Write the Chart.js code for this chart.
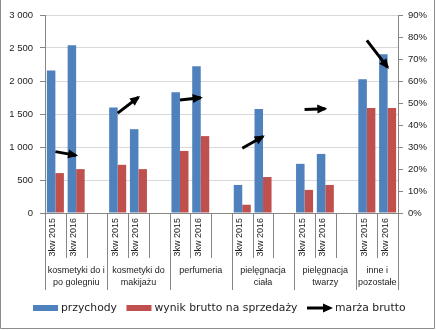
<!DOCTYPE html>
<html>
<head>
<meta charset="utf-8">
<script src="https://cdn.jsdelivr.net/npm/chart.js@4/dist/chart.umd.min.js"></script>
<style>
  html, body { margin: 0; padding: 0; background: #fff; }
  canvas { display: block; }
</style>
</head>
<body>
<canvas id="chart" width="436" height="330"></canvas>
<script>
// Product groups (two-line labels) and reporting periods
const groupLabels = [
  ['kosmetyki do i', 'po golegniu'],
  ['kosmetyki do', 'makijażu'],
  ['perfumeria'],
  ['pielęgnacja', 'ciała'],
  ['pielęgnacja', 'twarzy'],
  ['inne i', 'pozostałe']
];
const periods = ['3kw 2015', '3kw 2016'];

// Revenue and gross sales result per group (left axis)
const przychody2015 = [2160, 1600, 1830, 425, 745, 2025];
const przychody2016 = [2540, 1270, 2225, 1575, 895, 2405];
const wynik2015 = [605, 730, 940, 125, 350, 1590];
const wynik2016 = [665, 665, 1165, 545, 425, 1590];

// Gross margin in percent (right axis)
const marza2015 = [27.9, 45.4, 51.4, 29.4, 47.0, 78.5];
const marza2016 = [26.2, 52.6, 52.4, 34.8, 47.4, 66.2];

// Axis ranges
const leftMax = 3000, leftStep = 500;
const rightMax = 90, rightStep = 10;

// Series names
const seriesNames = ['przychody', 'wynik brutto na sprzedaży', 'marża brutto'];

// Build slots: two periods per group plus an empty spacer between groups
const slotLabels = [];
const slotGroup = [];
const revSlots = [], resSlots = [], marSlots = [];
groupLabels.forEach((g, gi) => {
  const rev = [przychody2015[gi], przychody2016[gi]];
  const res = [wynik2015[gi], wynik2016[gi]];
  const mar = [marza2015[gi], marza2016[gi]];
  periods.forEach((p, pi) => {
    slotLabels.push(p); slotGroup.push(gi);
    revSlots.push(rev[pi]); resSlots.push(res[pi]); marSlots.push(mar[pi]);
  });
  if (gi < groupLabels.length - 1) {
    slotLabels.push(''); slotGroup.push(gi);
    revSlots.push(null); resSlots.push(null); marSlots.push(null);
  }
});

const BLUE = '#4f81bd', RED = '#c0504d', AXIS = '#868686', GRID = '#d9d9d9', TEXT = '#222';
const tickFont = { family: 'Liberation Sans', size: 9.5 };

function fmtThousands(v) {
  if (v < 1000) return String(v);
  return Math.floor(v / 1000) + ' ' + String(v % 1000).padStart(3, '0');
}

function drawArrowHead(ctx, x0, y0, x1, y1, len, half, ext) {
  const dx = x1 - x0, dy = y1 - y0;
  const d = Math.hypot(dx, dy) || 1;
  const ux = dx / d, uy = dy / d;
  const tx = x1 + ux * ext, ty = y1 + uy * ext;
  const bx = tx - ux * len, by = ty - uy * len;
  ctx.beginPath();
  ctx.moveTo(tx, ty);
  ctx.lineTo(bx - uy * half, by + ux * half);
  ctx.lineTo(bx + uy * half, by - ux * half);
  ctx.closePath();
  ctx.fill();
}

// Arrowheads on the margin segments, category annotations, legend and frame
const decorPlugin = {
  id: 'decor',
  afterDatasetsDraw(chart) {
    const ctx = chart.ctx;
    const meta = chart.getDatasetMeta(2);
    ctx.save();
    ctx.fillStyle = '#000';
    for (let i = 0; i < marSlots.length - 1; i++) {
      if (marSlots[i] != null && marSlots[i + 1] != null && slotGroup[i] === slotGroup[i + 1]) {
        const a = meta.data[i], b = meta.data[i + 1];
        drawArrowHead(ctx, a.x, a.y, b.x, b.y, 10, 4.5, 2);
      }
    }
    ctx.restore();
  },
  afterDraw(chart) {
    const ctx = chart.ctx;
    const xs = chart.scales.x;
    const area = chart.chartArea;
    const n = slotLabels.length;
    const slotW = (area.right - area.left) / n;
    const base = area.bottom;
    ctx.save();

    // slot and group separators below the axis
    ctx.strokeStyle = AXIS;
    ctx.lineWidth = 1;
    const groupStarts = new Set([0]);
    for (let i = 1; i < n; i++) if (slotGroup[i] !== slotGroup[i - 1]) groupStarts.add(i);
    groupStarts.add(n);
    for (let i = 0; i <= n; i++) {
      const x = Math.round(xs.getPixelForValue(Math.min(i, n - 1)) + (i === n ? slotW / 2 : -slotW / 2)) + 0.5;
      const len = groupStarts.has(i) ? 77 : 45;
      ctx.beginPath();
      ctx.moveTo(x, base);
      ctx.lineTo(x, base + len);
      ctx.stroke();
    }

    // rotated period labels
    ctx.fillStyle = TEXT;
    ctx.font = '9px "Liberation Sans"';
    ctx.textAlign = 'right';
    ctx.textBaseline = 'alphabetic';
    slotLabels.forEach((lab, i) => {
      if (!lab) return;
      const x = xs.getPixelForValue(i);
      ctx.save();
      ctx.translate(x, base + 5);
      ctx.rotate(-Math.PI / 2);
      ctx.fillText(lab, 0, 0);
      ctx.restore();
    });

    // group labels
    ctx.textAlign = 'center';
    ctx.textBaseline = 'middle';
    groupLabels.forEach((lines, gi) => {
      const idx = slotGroup.map((g, i) => g === gi ? i : -1).filter(i => i >= 0);
      const x0 = xs.getPixelForValue(idx[0]) - slotW / 2;
      const x1 = xs.getPixelForValue(idx[idx.length - 1]) + slotW / 2;
      const cx = (x0 + x1) / 2;
      lines.forEach((t, li) => ctx.fillText(t, cx, base + 58 + li * 12));
    });

    // legend
    const ly = 308;
    ctx.font = '10.8px "DejaVu Sans"';
    ctx.textAlign = 'left';
    ctx.textBaseline = 'middle';
    let lx = 33;
    const swatches = [BLUE, RED, null];
    seriesNames.forEach((name, k) => {
      if (swatches[k]) {
        ctx.fillStyle = swatches[k];
        ctx.fillRect(lx, ly - 3, 25, 6);
      } else {
        ctx.strokeStyle = '#000';
        ctx.lineWidth = 3;
        ctx.beginPath();
        ctx.moveTo(lx, ly);
        ctx.lineTo(lx + 18, ly);
        ctx.stroke();
        ctx.fillStyle = '#000';
        drawArrowHead(ctx, lx, ly, lx + 17, ly, 10, 4.5, 9);
      }
      lx += 28;
      ctx.fillStyle = TEXT;
      ctx.fillText(name, lx, ly + 0.5);
      lx += ctx.measureText(name).width + 9.5;
    });

    // outer frame (left, right, bottom)
    ctx.strokeStyle = '#8c8c8c';
    ctx.lineWidth = 1;
    ctx.beginPath();
    ctx.moveTo(0.5, 0);
    ctx.lineTo(0.5, 328.5);
    ctx.lineTo(434.5, 328.5);
    ctx.lineTo(434.5, 0);
    ctx.stroke();
    ctx.restore();
  }
};

new Chart(document.getElementById('chart'), {
  type: 'bar',
  data: {
    labels: slotLabels,
    datasets: [
      { label: seriesNames[0], data: revSlots, backgroundColor: BLUE, yAxisID: 'y', order: 2,
        categoryPercentage: 0.82, barPercentage: 1.0 },
      { label: seriesNames[1], data: resSlots, backgroundColor: RED, yAxisID: 'y', order: 2,
        categoryPercentage: 0.82, barPercentage: 1.0 },
      { type: 'line', label: seriesNames[2], data: marSlots, yAxisID: 'y1', order: 0,
        borderColor: '#000', borderWidth: 3, borderCapStyle: 'butt', pointRadius: 0,
        spanGaps: false, fill: false, tension: 0 }
    ]
  },
  options: {
    responsive: false,
    animation: false,
    layout: { padding: { top: 15, left: 0, right: 0, bottom: 0 } },
    plugins: { legend: { display: false }, tooltip: { enabled: false } },
    scales: {
      x: {
        offset: true,
        grid: { display: false },
        border: { display: true, color: AXIS },
        ticks: { display: false },
        afterFit(s) { s.height = 117; }
      },
      y: {
        position: 'left',
        min: 0, max: leftMax,
        grid: { color: GRID, tickColor: AXIS, tickLength: 5 },
        border: { color: AXIS },
        ticks: { stepSize: leftStep, color: TEXT, font: tickFont, padding: 7,
                 callback: v => fmtThousands(v) },
        afterFit(s) { s.width = 45; }
      },
      y1: {
        position: 'right',
        min: 0, max: rightMax,
        grid: { drawOnChartArea: false, tickColor: AXIS, tickLength: 5 },
        border: { color: AXIS },
        ticks: { stepSize: rightStep, color: TEXT, font: tickFont, padding: 5,
                 callback: v => v + '%' },
        afterFit(s) { s.width = 38; }
      }
    }
  },
  plugins: [decorPlugin]
});
</script>
</body>
</html>
